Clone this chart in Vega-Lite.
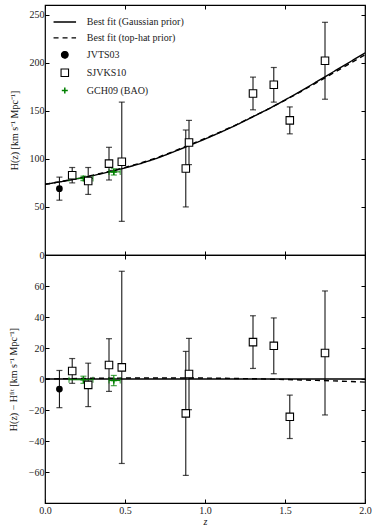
{
  "$schema": "https://vega.github.io/schema/vega-lite/v6.json",
  "autosize": {"type": "pad"},
  "padding": {"left": 7, "top": 3, "right": 5, "bottom": 0},
  "spacing": 0,
  "bounds": "flush",
  "config": {
    "font": "Liberation Serif",
    "view": {"stroke": "black", "strokeWidth": 1.2},
    "axis": {"grid": false, "domain": false, "tickColor": "black", "tickSize": -4, "tickWidth": 1, "labelFlush": false,
      "labelFont": "Liberation Serif", "labelFontSize": 10, "labelColor": "#222", "labelPadding": 5,
      "titleFont": "Liberation Serif", "titleFontSize": 10, "titleFontWeight": "normal", "titleColor": "#111"},
    "legend": {"labelFont": "Liberation Serif", "labelFontSize": 10, "labelColor": "#222"}
  },
  "datasets": {
    "fit": [
      {"series":"Best fit (Gaussian prior)","z":0.0,"H":73.5,"r":0},
      {"series":"Best fit (Gaussian prior)","z":0.1,"H":76.2,"r":0},
      {"series":"Best fit (Gaussian prior)","z":0.2,"H":79.3,"r":0},
      {"series":"Best fit (Gaussian prior)","z":0.3,"H":82.6,"r":0},
      {"series":"Best fit (Gaussian prior)","z":0.4,"H":86.4,"r":0},
      {"series":"Best fit (Gaussian prior)","z":0.5,"H":90.5,"r":0},
      {"series":"Best fit (Gaussian prior)","z":0.6,"H":95.2,"r":0},
      {"series":"Best fit (Gaussian prior)","z":0.7,"H":100.6,"r":0},
      {"series":"Best fit (Gaussian prior)","z":0.8,"H":107.0,"r":0},
      {"series":"Best fit (Gaussian prior)","z":0.9,"H":113.7,"r":0},
      {"series":"Best fit (Gaussian prior)","z":1.0,"H":120.6,"r":0},
      {"series":"Best fit (Gaussian prior)","z":1.1,"H":127.8,"r":0},
      {"series":"Best fit (Gaussian prior)","z":1.2,"H":135.5,"r":0},
      {"series":"Best fit (Gaussian prior)","z":1.3,"H":143.8,"r":0},
      {"series":"Best fit (Gaussian prior)","z":1.4,"H":152.2,"r":0},
      {"series":"Best fit (Gaussian prior)","z":1.5,"H":161.2,"r":0},
      {"series":"Best fit (Gaussian prior)","z":1.6,"H":170.6,"r":0},
      {"series":"Best fit (Gaussian prior)","z":1.7,"H":180.4,"r":0},
      {"series":"Best fit (Gaussian prior)","z":1.8,"H":190.3,"r":0},
      {"series":"Best fit (Gaussian prior)","z":1.9,"H":200.2,"r":0},
      {"series":"Best fit (Gaussian prior)","z":2.0,"H":210.2,"r":0},
      {"series":"Best fit (top-hat prior)","z":0.0,"H":73.5,"r":0.0},
      {"series":"Best fit (top-hat prior)","z":0.1,"H":76.4,"r":0.2},
      {"series":"Best fit (top-hat prior)","z":0.2,"H":79.6,"r":0.3},
      {"series":"Best fit (top-hat prior)","z":0.3,"H":83.1,"r":0.5},
      {"series":"Best fit (top-hat prior)","z":0.4,"H":86.9,"r":0.5},
      {"series":"Best fit (top-hat prior)","z":0.5,"H":91.1,"r":0.6},
      {"series":"Best fit (top-hat prior)","z":0.6,"H":95.8,"r":0.6},
      {"series":"Best fit (top-hat prior)","z":0.7,"H":101.2,"r":0.6},
      {"series":"Best fit (top-hat prior)","z":0.8,"H":107.6,"r":0.6},
      {"series":"Best fit (top-hat prior)","z":0.9,"H":114.3,"r":0.6},
      {"series":"Best fit (top-hat prior)","z":1.0,"H":121.2,"r":0.6},
      {"series":"Best fit (top-hat prior)","z":1.1,"H":128.3,"r":0.5},
      {"series":"Best fit (top-hat prior)","z":1.2,"H":135.8,"r":0.3},
      {"series":"Best fit (top-hat prior)","z":1.3,"H":144.0,"r":0.2},
      {"series":"Best fit (top-hat prior)","z":1.4,"H":152.1,"r":-0.1},
      {"series":"Best fit (top-hat prior)","z":1.5,"H":160.9,"r":-0.3},
      {"series":"Best fit (top-hat prior)","z":1.6,"H":170.0,"r":-0.6},
      {"series":"Best fit (top-hat prior)","z":1.7,"H":179.5,"r":-0.9},
      {"series":"Best fit (top-hat prior)","z":1.8,"H":189.1,"r":-1.2},
      {"series":"Best fit (top-hat prior)","z":1.9,"H":198.6,"r":-1.6},
      {"series":"Best fit (top-hat prior)","z":2.0,"H":208.2,"r":-2.0}
    ],
    "obs": [
      {"series":"JVTS03","z":0.09,"H":69,"Hlo":57,"Hhi":81,"r":-6.5,"rlo":-18.5,"rhi":5.5},
      {"series":"SJVKS10","z":0.17,"H":83,"Hlo":75,"Hhi":91,"r":5.2,"rlo":-2.8,"rhi":13.2},
      {"series":"SJVKS10","z":0.27,"H":77,"Hlo":63,"Hhi":91,"r":-3.8,"rlo":-17.8,"rhi":10.2},
      {"series":"SJVKS10","z":0.40,"H":95,"Hlo":78,"Hhi":112,"r":9.0,"rlo":-8.0,"rhi":26.0},
      {"series":"SJVKS10","z":0.48,"H":97,"Hlo":35,"Hhi":159,"r":7.5,"rlo":-54.5,"rhi":69.5},
      {"series":"SJVKS10","z":0.88,"H":90,"Hlo":50,"Hhi":130,"r":-22.2,"rlo":-62.2,"rhi":17.8},
      {"series":"SJVKS10","z":0.90,"H":117,"Hlo":94,"Hhi":140,"r":3.2,"rlo":-19.8,"rhi":26.2},
      {"series":"SJVKS10","z":1.30,"H":168,"Hlo":151,"Hhi":185,"r":23.8,"rlo":6.8,"rhi":40.8},
      {"series":"SJVKS10","z":1.43,"H":177,"Hlo":159,"Hhi":195,"r":21.4,"rlo":3.4,"rhi":39.4},
      {"series":"SJVKS10","z":1.53,"H":140,"Hlo":126,"Hhi":154,"r":-24.4,"rlo":-38.4,"rhi":-10.4},
      {"series":"SJVKS10","z":1.75,"H":202,"Hlo":162,"Hhi":242,"r":16.8,"rlo":-23.2,"rhi":56.8},
      {"series":"GCH09 (BAO)","z":0.24,"zlo":0.15,"zhi":0.30,"H":79.69,"Hlo":77.37,"Hhi":82.01,"r":-0.5,"rlo":-2.8,"rhi":1.8},
      {"series":"GCH09 (BAO)","z":0.43,"zlo":0.40,"zhi":0.47,"H":86.45,"Hlo":83.18,"Hhi":89.72,"r":-1.0,"rlo":-4.3,"rhi":2.3}
    ]
  },
  "vconcat": [
    {
      "width": 320, "height": 250,
      "resolve": {"axis": {"x": "independent", "y": "independent"}},
      "layer": [
        {
          "data": {"name": "fit"},
          "mark": {"type": "line", "strokeWidth": 1.4, "clip": true},
          "encoding": {
            "x": {"field": "z", "type": "quantitative", "scale": {"domain": [0, 2]},
              "axis": {"orient": "bottom", "values": [0, 0.5, 1, 1.5, 2], "labels": false, "title": null, "labelPadding": 0, "minExtent": 0, "maxExtent": 0}},
            "y": {"field": "H", "type": "quantitative", "scale": {"domain": [0, 250]},
              "axis": {"orient": "left", "values": [0, 50, 100, 150, 200, 250], "title": "H(z) [km s⁻¹ Mpc⁻¹]", "titlePadding": 10}},
            "color": {"field": "series", "type": "nominal",
              "scale": {"domain": ["Best fit (Gaussian prior)", "Best fit (top-hat prior)", "JVTS03", "SJVKS10", "GCH09 (BAO)"],
                "range": ["black", "black", "black", "black", "#008000"]},
              "legend": {"orient": "none", "legendX": 14.8, "legendY": 12, "title": null, "padding": 0,
                "symbolSize": 225, "labelOffset": 17, "rowPadding": 5.9, "symbolStrokeWidth": 1.3,
                "encode": {"symbols": {"update": {
                  "shape": {"signal": "datum.value === 'JVTS03' ? 'circle' : datum.value === 'SJVKS10' ? 'M-1,-1L1,-1L1,1L-1,1Z M-1,-1L-1,1L1,1L1,-1Z' : datum.value === 'GCH09 (BAO)' ? 'M-1,0L1,0M0,-1L0,1' : 'M-1.5,0L1.5,0'"},
                  "size": {"signal": "datum.value === 'JVTS03' ? 45 : datum.value === 'SJVKS10' ? 56 : datum.value === 'GCH09 (BAO)' ? 36 : 225"},
                  "stroke": {"signal": "datum.value === 'GCH09 (BAO)' ? '#008000' : 'black'"},
                  "strokeDash": {"signal": "datum.value === 'Best fit (top-hat prior)' ? [5, 4] : [1, 0]"},
                  "strokeWidth": {"signal": "datum.value === 'Best fit (Gaussian prior)' ? 1.6 : datum.value === 'GCH09 (BAO)' ? 1.5 : 1.1"},
                  "opacity": {"value": 1}
                }}}}},
            "strokeDash": {"field": "series", "type": "nominal",
              "scale": {"domain": ["Best fit (Gaussian prior)", "Best fit (top-hat prior)"], "range": [[1, 0], [5, 4]]},
              "legend": null}
          }
        },
        {
          "data": {"name": "obs"},
          "mark": {"type": "rule", "strokeWidth": 1},
          "encoding": {
            "x": {"field": "z", "type": "quantitative", "axis": null},
            "y": {"field": "Hlo", "type": "quantitative", "axis": null},
            "y2": {"field": "Hhi"},
            "color": {"field": "series", "type": "nominal"}
          }
        },
        {
          "data": {"name": "obs"},
          "mark": {"type": "tick", "orient": "horizontal", "size": 6, "thickness": 1.2},
          "encoding": {
            "x": {"field": "z", "type": "quantitative", "axis": null},
            "y": {"field": "Hlo", "type": "quantitative", "axis": null},
            "color": {"field": "series", "type": "nominal"}
          }
        },
        {
          "data": {"name": "obs"},
          "mark": {"type": "tick", "orient": "horizontal", "size": 6, "thickness": 1.2},
          "encoding": {
            "x": {"field": "z", "type": "quantitative", "axis": null},
            "y": {"field": "Hhi", "type": "quantitative", "axis": null},
            "color": {"field": "series", "type": "nominal"}
          }
        },
        {
          "data": {"name": "obs"},
          "transform": [{"filter": "datum.series === 'GCH09 (BAO)'"}],
          "mark": {"type": "rule", "strokeWidth": 1},
          "encoding": {
            "x": {"field": "zlo", "type": "quantitative", "axis": null},
            "x2": {"field": "zhi"},
            "y": {"field": "H", "type": "quantitative", "axis": null},
            "color": {"field": "series", "type": "nominal"}
          }
        },
        {
          "data": {"name": "obs"},
          "transform": [{"filter": "datum.series === 'GCH09 (BAO)'"}],
          "mark": {"type": "tick", "orient": "vertical", "size": 6, "thickness": 1.2},
          "encoding": {
            "x": {"field": "zlo", "type": "quantitative", "axis": null},
            "y": {"field": "H", "type": "quantitative", "axis": null},
            "color": {"field": "series", "type": "nominal"}
          }
        },
        {
          "data": {"name": "obs"},
          "transform": [{"filter": "datum.series === 'GCH09 (BAO)'"}],
          "mark": {"type": "tick", "orient": "vertical", "size": 6, "thickness": 1.2},
          "encoding": {
            "x": {"field": "zhi", "type": "quantitative", "axis": null},
            "y": {"field": "H", "type": "quantitative", "axis": null},
            "color": {"field": "series", "type": "nominal"}
          }
        },
        {
          "data": {"name": "obs"},
          "transform": [{"filter": "datum.series === 'JVTS03'"}],
          "mark": {"type": "point", "shape": "circle", "filled": true, "size": 45, "opacity": 1},
          "encoding": {
            "x": {"field": "z", "type": "quantitative", "axis": null},
            "y": {"field": "H", "type": "quantitative", "axis": null},
            "color": {"field": "series", "type": "nominal"}
          }
        },
        {
          "data": {"name": "obs"},
          "transform": [{"filter": "datum.series === 'GCH09 (BAO)'"}],
          "mark": {"type": "point", "shape": "M-1,0L1,0M0,-1L0,1", "filled": false, "size": 36, "strokeWidth": 1.5, "opacity": 1},
          "encoding": {
            "x": {"field": "z", "type": "quantitative", "axis": null},
            "y": {"field": "H", "type": "quantitative", "axis": null},
            "color": {"field": "series", "type": "nominal"}
          }
        },
        {
          "data": {"name": "obs"},
          "transform": [{"filter": "datum.series === 'SJVKS10'"}],
          "mark": {"type": "point", "shape": "square", "filled": false, "fill": "white", "size": 56, "strokeWidth": 1.1, "opacity": 1},
          "encoding": {
            "x": {"field": "z", "type": "quantitative",
              "axis": {"orient": "top", "values": [0, 0.5, 1, 1.5, 2], "labels": false, "title": null, "labelPadding": 0, "minExtent": 0, "maxExtent": 0}},
            "y": {"field": "H", "type": "quantitative",
              "axis": {"orient": "right", "values": [0, 50, 100, 150, 200, 250], "labels": false, "title": null, "labelPadding": 0, "minExtent": 0, "maxExtent": 0}},
            "color": {"field": "series", "type": "nominal"}
          }
        }
      ]
    },
    {
      "width": 320, "height": 248,
      "resolve": {"axis": {"x": "independent", "y": "independent"}},
      "layer": [
        {
          "data": {"name": "fit"},
          "mark": {"type": "line", "strokeWidth": 1.4, "clip": true, "color": "black"},
          "encoding": {
            "x": {"field": "z", "type": "quantitative", "scale": {"domain": [0, 2]},
              "axis": {"orient": "bottom", "values": [0, 0.5, 1, 1.5, 2], "format": ".1f", "title": "z", "titleFontStyle": "italic", "titlePadding": 1, "labelPadding": 6}},
            "y": {"field": "r", "type": "quantitative", "scale": {"domain": [-80, 80]},
              "axis": {"orient": "left", "values": [-60, -40, -20, 0, 20, 40, 60], "title": "H(z) − Hᶠⁱᵗ [km s⁻¹ Mpc⁻¹]", "titlePadding": 10}},
            "strokeDash": {"field": "series", "type": "nominal", "legend": null}
          }
        },
        {
          "data": {"name": "obs"},
          "mark": {"type": "rule", "strokeWidth": 1},
          "encoding": {
            "x": {"field": "z", "type": "quantitative", "axis": null},
            "y": {"field": "rlo", "type": "quantitative", "axis": null},
            "y2": {"field": "rhi"},
            "color": {"field": "series", "type": "nominal"}
          }
        },
        {
          "data": {"name": "obs"},
          "mark": {"type": "tick", "orient": "horizontal", "size": 6, "thickness": 1.2},
          "encoding": {
            "x": {"field": "z", "type": "quantitative", "axis": null},
            "y": {"field": "rlo", "type": "quantitative", "axis": null},
            "color": {"field": "series", "type": "nominal"}
          }
        },
        {
          "data": {"name": "obs"},
          "mark": {"type": "tick", "orient": "horizontal", "size": 6, "thickness": 1.2},
          "encoding": {
            "x": {"field": "z", "type": "quantitative", "axis": null},
            "y": {"field": "rhi", "type": "quantitative", "axis": null},
            "color": {"field": "series", "type": "nominal"}
          }
        },
        {
          "data": {"name": "obs"},
          "transform": [{"filter": "datum.series === 'GCH09 (BAO)'"}],
          "mark": {"type": "rule", "strokeWidth": 1},
          "encoding": {
            "x": {"field": "zlo", "type": "quantitative", "axis": null},
            "x2": {"field": "zhi"},
            "y": {"field": "r", "type": "quantitative", "axis": null},
            "color": {"field": "series", "type": "nominal"}
          }
        },
        {
          "data": {"name": "obs"},
          "transform": [{"filter": "datum.series === 'GCH09 (BAO)'"}],
          "mark": {"type": "tick", "orient": "vertical", "size": 6, "thickness": 1.2},
          "encoding": {
            "x": {"field": "zlo", "type": "quantitative", "axis": null},
            "y": {"field": "r", "type": "quantitative", "axis": null},
            "color": {"field": "series", "type": "nominal"}
          }
        },
        {
          "data": {"name": "obs"},
          "transform": [{"filter": "datum.series === 'GCH09 (BAO)'"}],
          "mark": {"type": "tick", "orient": "vertical", "size": 6, "thickness": 1.2},
          "encoding": {
            "x": {"field": "zhi", "type": "quantitative", "axis": null},
            "y": {"field": "r", "type": "quantitative", "axis": null},
            "color": {"field": "series", "type": "nominal"}
          }
        },
        {
          "data": {"name": "obs"},
          "transform": [{"filter": "datum.series === 'JVTS03'"}],
          "mark": {"type": "point", "shape": "circle", "filled": true, "size": 45, "opacity": 1},
          "encoding": {
            "x": {"field": "z", "type": "quantitative", "axis": null},
            "y": {"field": "r", "type": "quantitative", "axis": null},
            "color": {"field": "series", "type": "nominal"}
          }
        },
        {
          "data": {"name": "obs"},
          "transform": [{"filter": "datum.series === 'GCH09 (BAO)'"}],
          "mark": {"type": "point", "shape": "M-1,0L1,0M0,-1L0,1", "filled": false, "size": 36, "strokeWidth": 1.5, "opacity": 1},
          "encoding": {
            "x": {"field": "z", "type": "quantitative", "axis": null},
            "y": {"field": "r", "type": "quantitative", "axis": null},
            "color": {"field": "series", "type": "nominal"}
          }
        },
        {
          "data": {"name": "obs"},
          "transform": [{"filter": "datum.series === 'SJVKS10'"}],
          "mark": {"type": "point", "shape": "square", "filled": false, "fill": "white", "size": 56, "strokeWidth": 1.1, "opacity": 1},
          "encoding": {
            "x": {"field": "z", "type": "quantitative",
              "axis": {"orient": "top", "values": [0, 0.5, 1, 1.5, 2], "labels": false, "title": null, "labelPadding": 0, "minExtent": 0, "maxExtent": 0}},
            "y": {"field": "r", "type": "quantitative",
              "axis": {"orient": "right", "values": [-60, -40, -20, 0, 20, 40, 60], "labels": false, "title": null, "labelPadding": 0, "minExtent": 0, "maxExtent": 0}},
            "color": {"field": "series", "type": "nominal"}
          }
        }
      ]
    }
  ]
}
